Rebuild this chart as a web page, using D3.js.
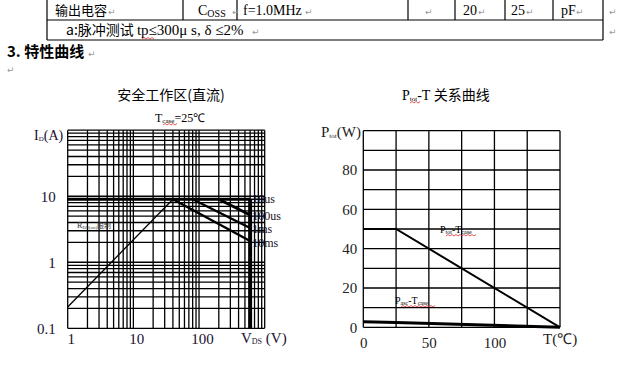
<!DOCTYPE html>
<html lang="zh">
<head>
<meta charset="utf-8">
<title>特性曲线</title>
<script src="https://d3js.org/d3.v7.min.js"></script>
<style>
  body { margin: 0; background: #fff; }
  svg { display: block; }
  text { font-family: "Liberation Serif", serif; }
  .cjk { font-family: "Noto Sans CJK SC", sans-serif; }
  .mark { font-family: "DejaVu Sans", sans-serif; fill: #999; font-size: 9px; }
</style>
</head>
<body>
<script>
// table rows
const row1 = ['输出电容', 'Coss', 'f=1.0MHz', '', '20', '25', 'pF'];
const row2 = 'a:脉冲测试 tp≤300μ s, δ ≤2%';

// safe operating area (log-log), [Vds, Id]
const soaXTicks = [1, 10, 100];
const soaYTicks = [0.1, 1, 10];
const idLimit = [[1, 9], [600, 9]];
const rdsLimit = [[1, 0.21], [40, 9]];
const pulse100us = [[200, 9], [600, 5.2]];
const pulse1ms = [[80, 9], [600, 3.3]];
const pulse10ms = [[40, 9], [600, 2.1]];
const vdsLimit = [[600, 0.1], [600, 9]];
const pulseNames = ['10us', '100us', '1ms', '10ms'];
const pulseLabelI = [9, 5.0, 3.2, 1.95];

// power derating, [T, P]
const tempTicks = [0, 50, 100];
const powerTicks = [0, 20, 40, 60, 80];
const ptotCurve = [[0, 50], [25, 50], [150, 0]];
const pascCurve = [[0, 2.8], [25, 2.4], [150, 0]];

const W = 637, H = 380;
const svg = d3.select('body').append('svg')
  .attr('width', W).attr('height', H);
svg.append('rect').attr('width', W).attr('height', H).attr('fill', '#fff');

// red spell-check squiggle
function wavy(x1, x2, y) {
  let d = `M${x1},${y}`;
  for (let x = x1, up = true; x < x2; x += 2, up = !up) d += ` L${x + 2},${y + (up ? -1.5 : 0)}`;
  svg.append('path').attr('d', d).attr('fill', 'none').attr('stroke', '#e03030').attr('stroke-width', 0.8);
}

// ---- table ----
const colX = [47, 183, 237, 408, 455, 505, 553, 603];
const rowY = [-1, 20, 40];
const tbl = svg.append('g').attr('stroke', '#000').attr('stroke-width', 1.2);
rowY.forEach(y => tbl.append('line').attr('x1', colX[0]).attr('x2', colX[7]).attr('y1', y).attr('y2', y));
colX.forEach((x, i) => tbl.append('line').attr('x1', x).attr('x2', x)
  .attr('y1', rowY[0]).attr('y2', (i === 0 || i === 7) ? rowY[2] : rowY[1]));

const cellPos = [55, 198, 243, 425, 463, 511, 561];
row1.forEach((t, i) => {
  if (i === 0) {
    svg.append('text').attr('class', 'cjk').attr('x', cellPos[i]).attr('y', 15).attr('font-size', 13).text(t);
  } else if (t === 'Coss') {
    const tx = svg.append('text').attr('x', cellPos[i]).attr('y', 15).attr('font-size', 14);
    tx.append('tspan').text('C');
    tx.append('tspan').attr('font-size', 10).attr('dy', 2).text('OSS');
  } else if (t) {
    svg.append('text').attr('x', cellPos[i]).attr('y', 15).attr('font-size', 14).text(t);
  }
});
[108, 232, 305, 425, 478, 526, 576, 609].forEach(x =>
  svg.append('text').attr('class', 'mark').attr('x', x).attr('y', 15).text('↵'));

const r2 = svg.append('text').attr('x', 66).attr('y', 35).attr('font-size', 15);
r2.append('tspan').attr('class', 'cjk').attr('font-size', 14).text('a:脉冲测试 ');
r2.append('tspan').text(row2.slice(6));
wavy(142, 154, 39);
svg.append('text').attr('class', 'mark').attr('x', 252).attr('y', 35).text('↵');
svg.append('text').attr('class', 'mark').attr('x', 609).attr('y', 35).text('↵');

svg.append('text').attr('class', 'cjk').attr('x', 7).attr('y', 57)
  .attr('font-size', 15).attr('font-weight', 'bold').text('3. 特性曲线');
svg.append('text').attr('class', 'mark').attr('x', 88).attr('y', 57).text('↵');
svg.append('text').attr('class', 'mark').attr('x', 7).attr('y', 73).text('↵');

// ---- SOA chart ----
const xL = d3.scaleLog().domain([1, 1000]).range([67.7, 264.7]);
const yL = d3.scaleLog().domain([0.1, 100]).range([328.3, 130.2]);
const soa = svg.append('g');

const gridV = [], gridH = [];
[1, 10, 100].forEach(d => d3.range(1, 10).forEach(k => gridV.push(k * d)));
gridV.push(1000);
[0.1, 1, 10].forEach(d => d3.range(1, 10).forEach(k => gridH.push(k * d)));
gridH.push(100);

soa.selectAll('.gv').data(gridV).join('line')
  .attr('x1', d => xL(d)).attr('x2', d => xL(d)).attr('y1', yL(100)).attr('y2', yL(0.1))
  .attr('stroke', '#000').attr('stroke-width', 1.3);
soa.selectAll('.gh').data(gridH).join('line')
  .attr('x1', xL(1)).attr('x2', xL(1000)).attr('y1', d => yL(d)).attr('y2', d => yL(d))
  .attr('stroke', '#000').attr('stroke-width', 1.3);

const lineL = d3.line().x(d => xL(d[0])).y(d => yL(d[1]));
const soaLines = [
  [idLimit, 3], [rdsLimit, 1.3], [pulse100us, 3], [pulse1ms, 2.4], [pulse10ms, 2.4], [vdsLimit, 4]
];
soaLines.forEach(([pts, w]) => soa.append('path').attr('d', lineL(pts))
  .attr('fill', 'none').attr('stroke', '#000').attr('stroke-width', w));

pulseNames.forEach((n, i) => soa.append('text')
  .attr('x', xL(600) + 2).attr('y', yL(pulseLabelI[i]) + 4)
  .attr('font-size', 12).attr('fill', '#1a1020').text(n));

const rl = soa.append('text').attr('x', 77).attr('y', 228).attr('font-size', 8).attr('fill', '#333');
rl.append('tspan').text('R');
rl.append('tspan').attr('font-size', 5).attr('dy', 1).text('DS(on)');
rl.append('tspan').attr('class', 'cjk').attr('dy', -1).attr('font-size', 7).text('限制');

const soaX = d3.axisBottom(xL).tickValues(soaXTicks).tickSize(0).tickPadding(5).tickFormat(d3.format('d'));
const gx = soa.append('g').attr('transform', `translate(3,${yL(0.1)})`).call(soaX);
const soaY = d3.axisLeft(yL).tickValues(soaYTicks).tickSize(0).tickPadding(12).tickFormat(d => String(d));
const gy = soa.append('g').attr('transform', `translate(${xL(1)},0)`).call(soaY);
[gx, gy].forEach(g => {
  g.select('.domain').remove();
  g.selectAll('text').attr('font-family', '"Liberation Serif", serif').attr('font-size', 15).attr('fill', '#201030');
});

const idl = soa.append('text').attr('x', 34).attr('y', 140).attr('font-size', 14).attr('fill', '#201030');
idl.append('tspan').text('I');
idl.append('tspan').attr('font-size', 7).attr('dy', 1).text('D');
idl.append('tspan').attr('dy', -1).text('(A)');
const vdl = soa.append('text').attr('x', 241).attr('y', 343).attr('font-size', 15).attr('fill', '#201030');
vdl.append('tspan').text('V');
vdl.append('tspan').attr('font-size', 8).attr('dy', 1).text('DS');
vdl.append('tspan').attr('dy', -1).text(' (V)');

soa.append('text').attr('class', 'cjk').attr('x', 171).attr('y', 100)
  .attr('text-anchor', 'middle').attr('font-size', 14).text('安全工作区(直流)');
const tc = soa.append('text').attr('x', 155).attr('y', 122).attr('font-size', 12);
tc.append('tspan').text('T');
tc.append('tspan').attr('font-size', 7).attr('dy', 1).text('case');
tc.append('tspan').attr('dy', -1).text('=25℃');
wavy(163, 176, 125);

// ---- power derating chart ----
const xT = d3.scaleLinear().domain([0, 150]).range([363.3, 560]);
const yP = d3.scaleLinear().domain([0, 100]).range([327.3, 130.7]);
const pg = svg.append('g');

pg.selectAll('.tv').data(d3.range(0, 151, 25)).join('line')
  .attr('x1', d => xT(d)).attr('x2', d => xT(d)).attr('y1', yP(100)).attr('y2', yP(0))
  .attr('stroke', '#000').attr('stroke-width', 1.3);
pg.selectAll('.th').data(d3.range(0, 101, 10)).join('line')
  .attr('x1', xT(0)).attr('x2', xT(150)).attr('y1', d => yP(d)).attr('y2', d => yP(d))
  .attr('stroke', '#000').attr('stroke-width', 1.3);

const lineP = d3.line().x(d => xT(d[0])).y(d => yP(d[1]));
pg.append('path').attr('d', lineP(ptotCurve)).attr('fill', 'none').attr('stroke', '#000').attr('stroke-width', 2);
pg.append('path').attr('d', lineP(pascCurve)).attr('fill', 'none').attr('stroke', '#000').attr('stroke-width', 3);

const tAxis = d3.axisBottom(xT).tickValues(tempTicks).tickSize(0).tickPadding(10);
const gt = pg.append('g').attr('transform', `translate(0,${yP(0)})`).call(tAxis);
const pAxis = d3.axisLeft(yP).tickValues(powerTicks).tickSize(0).tickPadding(6);
const gp = pg.append('g').attr('transform', `translate(${xT(0)},0)`).call(pAxis);
[gt, gp].forEach(g => {
  g.select('.domain').remove();
  g.selectAll('text').attr('font-family', '"Liberation Serif", serif').attr('font-size', 15).attr('fill', '#222');
});

pg.append('text').attr('x', 543).attr('y', 344).attr('font-size', 15).attr('fill', '#222').text('T(℃)');
const pl = pg.append('text').attr('x', 321).attr('y', 137).attr('font-size', 15).attr('fill', '#222');
pl.append('tspan').text('P');
pl.append('tspan').attr('font-size', 7).attr('dy', 1).text('tot');
pl.append('tspan').attr('dy', -1).text('(W)');

const pt = pg.append('text').attr('x', 402).attr('y', 100).attr('font-size', 14);
pt.append('tspan').text('P');
pt.append('tspan').attr('font-size', 7).attr('dy', 1).text('tot');
pt.append('tspan').attr('dy', -1).text('-T ');
pt.append('tspan').attr('class', 'cjk').text('关系曲线');
wavy(410, 420, 103);

const l1 = pg.append('text').attr('x', 440).attr('y', 233).attr('font-size', 10);
l1.append('tspan').text('P');
l1.append('tspan').attr('font-size', 6).attr('dy', 1).text('tot');
l1.append('tspan').attr('dy', -1).text('-T');
l1.append('tspan').attr('font-size', 6).attr('dy', 1).text('case');
wavy(446, 476, 236);
const l2 = pg.append('text').attr('x', 395).attr('y', 304).attr('font-size', 10);
l2.append('tspan').text('P');
l2.append('tspan').attr('font-size', 6).attr('dy', 1).text('asc');
l2.append('tspan').attr('dy', -1).text('-T');
l2.append('tspan').attr('font-size', 6).attr('dy', 1).text('case');
wavy(401, 434, 307);
</script>
</body>
</html>
